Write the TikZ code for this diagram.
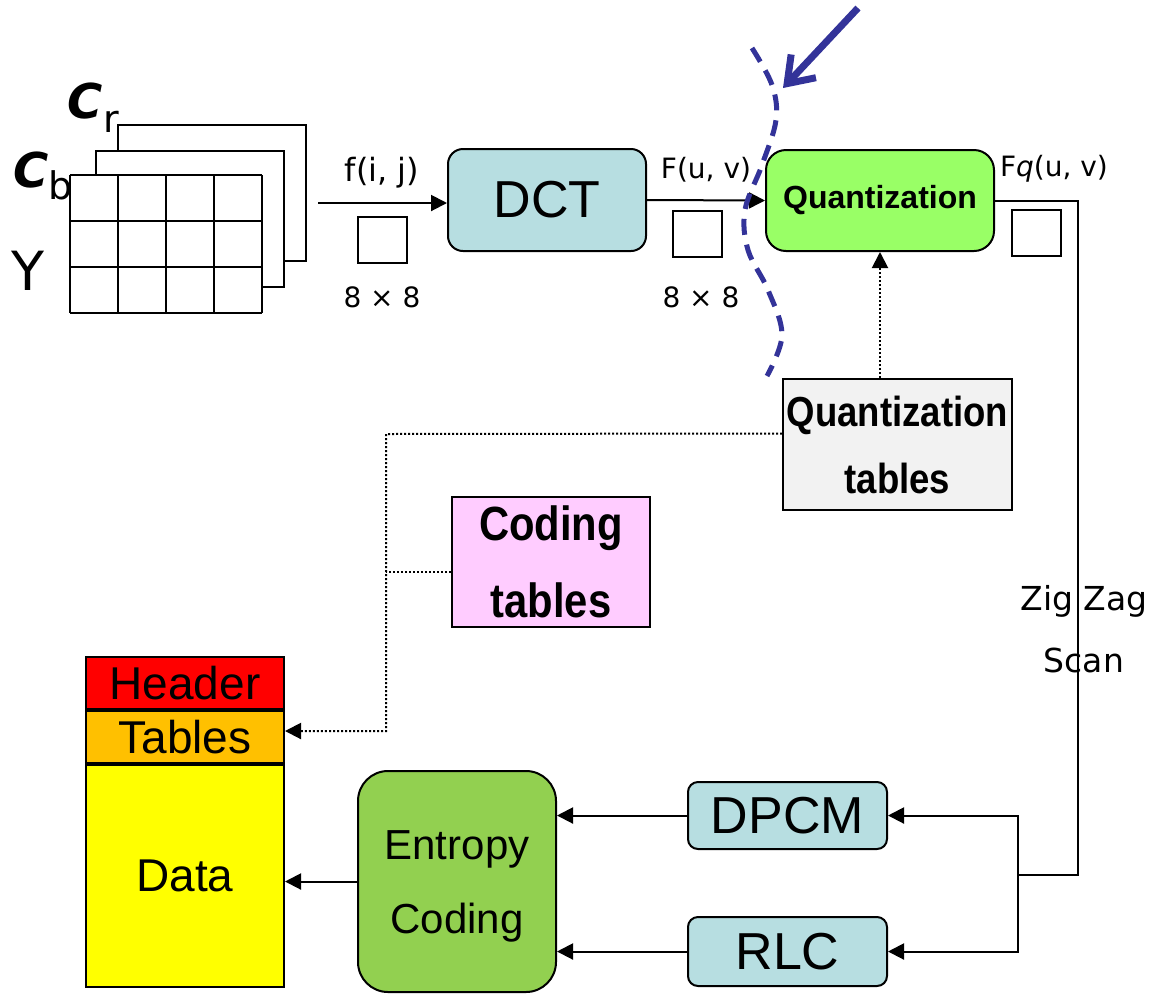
\documentclass[tikz,border=0pt]{standalone}
\usepackage{fontspec}
\usepackage{tikz}
\usetikzlibrary{arrows.meta, positioning}

\newfontfamily\comicfont{DejaVu Sans}
\newfontfamily\arialfont{Liberation Sans}
\newfontfamily\narrowfont[FakeStretch=0.87]{Liberation Sans}

\definecolor{dctblue}{HTML}{B7DEE1}
\definecolor{quantgreen}{HTML}{99FF66}
\definecolor{entgreen}{HTML}{92D050}
\definecolor{tabgray}{HTML}{F2F2F2}
\definecolor{codepink}{HTML}{FFCCFF}
\definecolor{hdrred}{HTML}{FF0000}
\definecolor{taborange}{HTML}{FFC000}
\definecolor{datayellow}{HTML}{FFFF00}
\definecolor{penblue}{HTML}{333399}

\begin{document}
\begin{tikzpicture}[
            x = 0.5pt, y = -0.5pt, % one unit per pixel, y downwards
            > = {Triangle[length=8pt, width=8pt]}, % arrow head style
            line width = 1pt % line style
        ]

        \tikzstyle{block}=[
            draw = black,
            line width = 1pt,
            inner sep = 0pt,
            align = center
        ]
        \tikzstyle{blockmark}=[
            draw = black,
            fill = white,
            minimum width = 24.5pt,
            minimum height = 23pt
        ]
        \tikzstyle{comic}=[
            font = \comicfont\fontsize{14}{16}\selectfont
        ]
        \tikzstyle{table link}=[
            dash pattern = on 1pt off 1pt
        ]

        \useasboundingbox (0,0) rectangle (1153,993);

        % the three colour planes
        \draw (118,151) -- (118,125) -- (306,125) -- (306,261) -- (284,261);
        \draw (96,175) -- (96,151) -- (284,151) -- (284,287) -- (262,287);
        \foreach \x in {70,118,166,214,262}
            \draw (\x,175) -- (\x,313);
        \foreach \y in {175,221,267,313}
            \draw (70,\y) -- (262,\y);

        \node[anchor=base west, inner sep=0pt, font=\comicfont\fontsize{24}{24}\selectfont]
            (cr) at (67,118) {\textbf{\textit{C}}\raisebox{-7pt}{\fontsize{19}{19}\selectfont r}};
        \node[anchor=base west, inner sep=0pt, font=\comicfont\fontsize{24}{24}\selectfont]
            (cb) at (12,187) {\textbf{\textit{C}}\raisebox{-6pt}{\fontsize{19}{19}\selectfont b}};
        \node[anchor=base west, inner sep=0pt, font=\comicfont\fontsize{27}{27}\selectfont]
            (yy) at (10,290) {Y};

        % main blocks
        \node[block, fill=dctblue, rounded corners=7.5pt, minimum width=99pt, minimum height=51pt,
            font=\arialfont\fontsize{26}{30}\selectfont] (dct) at (547,200) {DCT};
        \node[block, fill=quantgreen, rounded corners=10pt, minimum width=114pt, minimum height=50.5pt,
            font=\arialfont\bfseries\fontsize{16}{18}\selectfont] (quant) at (880,200.5) {Quantization};
        \node[block, fill=tabgray, minimum width=114.5pt, minimum height=65.5pt,
            font=\narrowfont\bfseries\fontsize{21}{33.5}\selectfont] (qtab) at (897.5,444.5) {Quantization\\tables};
        \node[block, fill=codepink, minimum width=99pt, minimum height=65pt,
            font=\narrowfont\bfseries\fontsize{24}{38.5}\selectfont] (ctab) at (551,562) {Coding\\tables};
        \node[block, fill=dctblue, rounded corners=5pt, minimum width=99.5pt, minimum height=33.5pt,
            font=\arialfont\fontsize{26}{30}\selectfont] (dpcm) at (787.5,815.5) {DPCM};
        \node[block, fill=dctblue, rounded corners=5pt, minimum width=99.5pt, minimum height=34.5pt,
            font=\arialfont\fontsize{26}{30}\selectfont] (rlc) at (787.5,951.5) {RLC};
        \node[block, fill=entgreen, rounded corners=15pt, minimum width=99pt, minimum height=110.5pt,
            font=\arialfont\fontsize{21}{37}\selectfont] (entropy) at (457,881.5)
            {\raisebox{-6pt}{\begin{tabular}{@{}c@{}}Entropy\\Coding\end{tabular}}};

        % output stream
        \node[block, fill=hdrred, minimum width=99pt, minimum height=26pt,
            font=\arialfont\fontsize{23}{26}\selectfont] (header) at (185,683) {Header};
        \node[block, fill=taborange, minimum width=99pt, minimum height=26pt,
            font=\arialfont\fontsize{23}{26}\selectfont] (tables) [below=0pt of header] {Tables};
        \node[block, fill=datayellow, minimum width=99pt, minimum height=111pt,
            font=\arialfont\fontsize{23}{26}\selectfont] (data) [below=0pt of tables] {Data};

        % 8x8 blocks and labels
        \node[blockmark] (fbox) at (382,240) {};
        \node[blockmark] (Fbox) at (697.5,234) {};
        \node[blockmark] (Fqbox) at (1036.5,232.5) {};
        \node[comic, font=\comicfont\fontsize{16}{18}\selectfont] (fij) at (382,173) {f(i, j)};
        \node[comic] (Fuv) at (706,170) {F(u, v)};
        \node[comic] (Fquv) at (1054,169) {F\textit{q}(u, v)};
        \node[comic, font=\comicfont\fontsize{14}{16}\selectfont] (fsize) at (382,297) {8 × 8};
        \node[comic, font=\comicfont\fontsize{14}{16}\selectfont] (Fsize) at (701,297) {8 × 8};

        % connectors
        \coordinate (in) at (318,203);
        \coordinate (zz) at (1078,875);
        \coordinate (split) at (1018,875);
        \coordinate (bend) at (386,434);

        \draw[->] (in) -- (in -| dct.west);
        \draw[->] (dct.east) -- (quant.west);
        \draw (quant.east) -| (zz) -- (split);
        \draw[->] (split) |- (dpcm.east);
        \draw[->] (split) |- (rlc.east);
        \draw[->] (dpcm.west) -- (dpcm.west -| entropy.east);
        \draw[->] (rlc.west) -- (rlc.west -| entropy.east);
        \draw[->] (entropy.west) -- (entropy.west -| data.east);

        \draw[table link, ->] (quant.south |- qtab.north) -- (quant.south);
        \draw[table link, ->] ([yshift=5.5pt]qtab.west) -- (bend) |- ([yshift=3pt]tables.east);
        \draw[table link] ([yshift=-5pt]ctab.west) -- ([yshift=-5pt]ctab.west -| bend);

        \node[comic, font=\comicfont\fontsize{16.5}{31}\selectfont, align=center] (scan) at (1084,629) {Zig Zag\\Scan};

        % blue pen marks
        \draw[penblue, line width=2.5pt, dash pattern=on 8pt off 5pt]
            plot[smooth, tension=0.6] coordinates {(752,48) (772,85) (776,120) (762,165) (745,210)
                (748,250) (768,290) (782,335) (767,376)};
        \draw[penblue, line width=3.5pt, -{Straight Barb[length=12pt, width=17pt]}] (858,8) -- (783,88);

  \end{tikzpicture}
\end{document}
